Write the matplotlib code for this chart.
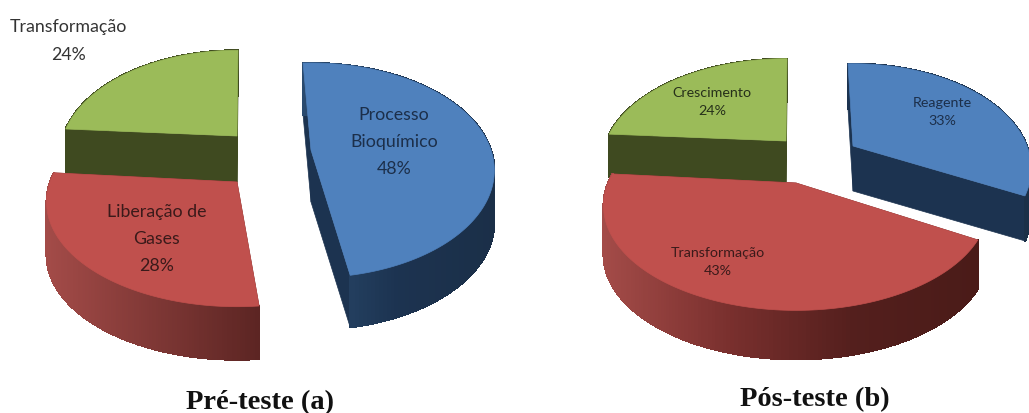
import matplotlib
matplotlib.use("Agg")
import matplotlib.pyplot as plt
import numpy as np
from matplotlib.colors import LinearSegmentedColormap
from matplotlib.patches import Polygon

# valores em percentagem
PRE_LABELS = ["Processo\nBioquímico", "Liberação de\nGases", "Transformação"]
PRE_VALUES = [48, 28, 24]
POS_LABELS = ["Reagente", "Transformação", "Crescimento"]
POS_VALUES = [33, 43, 24]
PRE_TITLE = "Pré-teste (a)"
POS_TITLE = "Pós-teste (b)"

TOP_COLORS = ["#4f81bd", "#c0504d", "#9bbb59"]
RADIAL_COLORS = ["#1c3350", "#6b2a28", "#3f4a20"]
PRE_WALLS = [
    LinearSegmentedColormap.from_list("b1", ["#2a4a6e", "#1c3350", "#1b2f48"]),
    LinearSegmentedColormap.from_list("r1", ["#a34b48", "#5c2523"]),
    LinearSegmentedColormap.from_list("g1", ["#3f4a20", "#3f4a20"]),
]
POS_WALLS = [
    LinearSegmentedColormap.from_list("b2", ["#1c3350", "#1b3048"]),
    LinearSegmentedColormap.from_list("r2", ["#a34b48", "#7a302e", "#541f1d", "#4a1b18"]),
    LinearSegmentedColormap.from_list("g2", ["#3f4a20", "#3f4a20"]),
]

# cx, cy, rx, ry, inicio (graus, horario a partir do topo), altura da parede
PRE_GEOM = [
    (311, 151, 180, 103.5, -3, 52),
    (237, 183, 187, 101, 174.5, 53),
    (237, 137, 174, 102, 274, 46),
]
POS_GEOM = [
    (853, 147, 174, 100, -2, 45),
    (796, 184, 188, 100, 120.5, 49),
    (786, 142, 180, 100, 274, 43),
]
PRE_PERSP = 0.19
POS_PERSP = 0.215


def project(theta, geom, persp):
    cx, cy, rx, ry = geom[:4]
    a = np.sin(np.radians(theta))
    b = -np.cos(np.radians(theta))
    w = 1 - persp * b
    return cx + rx * a / w, cy + ry * b / w


def draw_slice(ax, value, geom, persp, top, radial, cmap):
    cx, cy = geom[:2]
    start = geom[4]
    depth = geom[5]
    sweep = 360 * value / 100
    thetas = np.linspace(start, start + sweep, 160)
    xs, ys = project(thetas, geom, persp)

    # paredes radiais
    for i in (0, -1):
        quad = [(xs[i], ys[i]), (cx, cy), (cx, cy + depth), (xs[i], ys[i] + depth)]
        ax.add_patch(Polygon(quad, fc=radial, ec=radial, lw=0.5))

    # parede curva, com gradiente da esquerda para a direita
    t = (xs - xs.min()) / (xs.max() - xs.min())
    for i in range(len(xs) - 1):
        quad = [(xs[i], ys[i]), (xs[i + 1], ys[i + 1]),
                (xs[i + 1], ys[i + 1] + depth), (xs[i], ys[i] + depth)]
        color = cmap(t[i])
        ax.add_patch(Polygon(quad, fc=color, ec=color, lw=0.8, antialiased=False))

    # face superior
    face = np.column_stack([np.r_[cx, xs], np.r_[cy, ys]])
    ax.add_patch(Polygon(face, fc=top, ec=top, lw=0.5))


def draw_pie(ax, values, geoms, persp, walls):
    # verde primeiro, azul por cima
    for i in (2, 1, 0):
        draw_slice(ax, values[i], geoms[i], persp, TOP_COLORS[i], RADIAL_COLORS[i], walls[i])


fig = plt.figure(figsize=(10.29, 4.14), dpi=100)
ax = fig.add_axes([0, 0, 1, 1])
ax.set_xlim(0, 1029)
ax.set_ylim(414, 0)
ax.axis("off")

draw_pie(ax, PRE_VALUES, PRE_GEOM, PRE_PERSP, PRE_WALLS)
draw_pie(ax, POS_VALUES, POS_GEOM, POS_PERSP, POS_WALLS)

big = dict(family="Lato", fontsize=12.8, ha="center", va="center", linespacing=1.85)
small = dict(family="Lato", fontsize=10.3, ha="center", va="center", linespacing=1.65)

ax.text(394, 142, f"{PRE_LABELS[0]}\n{PRE_VALUES[0]}%", color="#1c2f4a", **big)
ax.text(157, 239, f"{PRE_LABELS[1]}\n{PRE_VALUES[1]}%", color="#3a1a1a", **big)
ax.text(68, 41, f"{PRE_LABELS[2]}\n{PRE_VALUES[2]}%", color="#333333", **big)
ax.text(942, 112, f"{POS_LABELS[0]}\n{POS_VALUES[0]}%", color="#1c2f4a", **small)
ax.text(718, 262, f"{POS_LABELS[1]}\n{POS_VALUES[1]}%", color="#3a1a1a", **small)
ax.text(712, 102, f"{POS_LABELS[2]}\n{POS_VALUES[2]}%", color="#26301a", **small)

title = dict(family="Liberation Serif", fontweight="bold", fontsize=20.5, ha="center", va="center", color="#111111")
ax.text(260, 403, PRE_TITLE, **title)
ax.text(815, 400, POS_TITLE, **title)

fig.savefig("out.png", dpi=100)
